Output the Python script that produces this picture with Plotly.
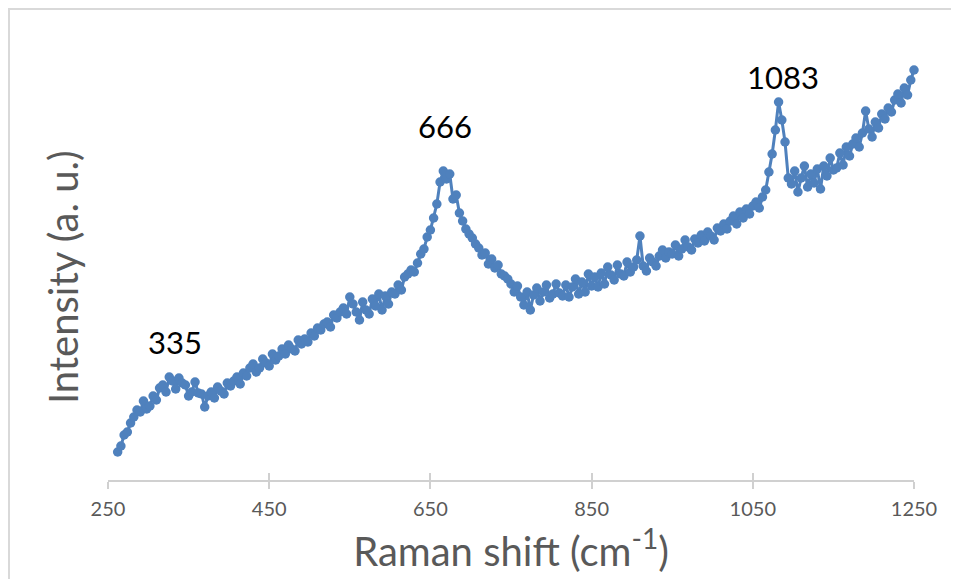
import plotly.graph_objects as go

# Raman spectrum (intensity in arbitrary units)
raman_shift = [
    262, 266, 270, 274, 278, 282, 286, 290, 294, 298,
    302, 306, 310, 314, 318, 322, 326, 330, 334, 338,
    342, 346, 350, 354, 358, 362, 366, 370, 374, 378,
    382, 386, 390, 394, 398, 402, 406, 410, 414, 418,
    422, 426, 430, 434, 438, 442, 446, 450, 454, 458,
    462, 466, 470, 474, 478, 482, 486, 490, 494, 498,
    502, 506, 510, 514, 518, 522, 526, 530, 534, 538,
    542, 546, 550, 554, 558, 562, 566, 570, 574, 578,
    582, 586, 590, 594, 598, 602, 606, 610, 614, 618,
    622, 626, 630, 634, 638, 642, 646, 650, 654, 658,
    662, 666, 670, 674, 678, 682, 686, 690, 694, 698,
    702, 706, 710, 714, 718, 722, 726, 730, 734, 738,
    742, 746, 750, 754, 758, 762, 766, 770, 774, 778,
    782, 786, 790, 794, 798, 802, 806, 810, 814, 818,
    822, 826, 830, 834, 838, 842, 846, 850, 854, 858,
    862, 866, 870, 874, 878, 882, 886, 890, 894, 898,
    902, 906, 910, 914, 918, 922, 926, 930, 934, 938,
    942, 946, 950, 954, 958, 962, 966, 970, 974, 978,
    982, 986, 990, 994, 998, 1002, 1006, 1010, 1014, 1018,
    1022, 1026, 1030, 1034, 1038, 1042, 1046, 1050, 1054, 1058,
    1062, 1066, 1070, 1074, 1078, 1082, 1086, 1090, 1094, 1098,
    1102, 1106, 1110, 1114, 1118, 1122, 1126, 1130, 1134, 1138,
    1142, 1146, 1150, 1154, 1158, 1162, 1166, 1170, 1174, 1178,
    1182, 1186, 1190, 1194, 1198, 1202, 1206, 1210, 1214, 1218,
    1222, 1226, 1230, 1234, 1238, 1242, 1246, 1250,
]
intensity = [
    28, 34, 45, 48, 57, 63, 70, 68, 79, 71,
    74, 84, 80, 92, 95, 88, 103, 99, 91, 102,
    97, 95, 84, 88, 98, 87, 86, 73, 84, 88,
    82, 93, 89, 86, 97, 94, 99, 103, 96, 107,
    104, 112, 116, 108, 112, 121, 117, 114, 126, 120,
    124, 131, 126, 135, 131, 129, 140, 136, 141, 138,
    147, 144, 152, 150, 156, 158, 153, 165, 162, 168,
    172, 166, 183, 176, 168, 160, 178, 170, 166, 181,
    174, 186, 170, 184, 176, 188, 186, 195, 190, 203,
    206, 210, 208, 217, 226, 231, 243, 250, 262, 276,
    298, 309, 301, 306, 281, 285, 267, 259, 251, 246,
    242, 236, 232, 225, 227, 216, 221, 212, 215, 206,
    204, 201, 196, 188, 194, 183, 175, 188, 170, 185,
    192, 179, 188, 195, 182, 186, 196, 187, 184, 195,
    183, 193, 201, 186, 198, 188, 206, 194, 203, 193,
    207, 196, 213, 205, 200, 215, 206, 204, 218, 208,
    213, 220, 244, 214, 209, 222, 218, 214, 224, 230,
    222, 228, 226, 235, 224, 231, 240, 233, 230, 241,
    237, 245, 239, 248, 244, 240, 252, 249, 256, 251,
    259, 264, 256, 268, 262, 271, 266, 274, 278, 272,
    283, 290, 308, 326, 350, 378, 360, 338, 302, 296,
    309, 288, 302, 314, 293, 306, 297, 311, 291, 314,
    304, 322, 310, 312, 327, 315, 333, 324, 336, 342,
    333, 347, 369, 351, 343, 358, 352, 366, 361, 372,
    368, 380, 386, 377, 392, 385, 400, 410,
]

peak_labels = ['335', '666', '1083']
peak_x = [333, 668, 1087]
peak_y = [138, 354, 403]

tick_vals = [250, 450, 650, 850, 1050, 1250]

blue = '#4F81BD'
grey_txt = '#595959'
axis_grey = '#D0D0D0'
font_family = 'Lato, Open Sans, sans-serif'

fig = go.Figure()
fig.add_trace(go.Scatter(
    x=raman_shift, y=intensity,
    mode='lines+markers',
    line=dict(color=blue, width=3),
    marker=dict(color=blue, size=9.5),
    cliponaxis=False,
    showlegend=False,
))
# invisible trace so the overlay axis (inner tick halves) gets drawn
fig.add_trace(go.Scatter(x=[250], y=[-100], xaxis='x2', mode='markers',
                         marker=dict(opacity=0), showlegend=False, hoverinfo='skip'))

# peak labels
for lab, px, py in zip(peak_labels, peak_x, peak_y):
    fig.add_annotation(x=px, y=py, text=lab, showarrow=False,
                       font=dict(family=font_family, size=31, color='black'))

# y axis title (Excel centres it a bit lower than the plot area)
fig.add_annotation(xref='paper', yref='paper', x=-0.0558, y=0.451,
                   xanchor='center', yanchor='middle',
                   text='Intensity (a. u.)', textangle=-90, showarrow=False,
                   font=dict(family=font_family, size=40, color=grey_txt))

# chart border (only top and left edges are visible in the frame)
fig.add_shape(type='rect', xref='paper', yref='paper',
              x0=-0.1228, x1=1.3, y0=-0.4, y1=1.0467,
              line=dict(color='#D9D9D9', width=2), layer='below')

fig.update_layout(
    width=951, height=571,
    margin=dict(l=100, r=45, t=22, b=99),
    paper_bgcolor='white', plot_bgcolor='white',
    font=dict(family=font_family, color=grey_txt),
    xaxis=dict(
        range=[250, 1250], tickvals=tick_vals,
        showgrid=False, zeroline=False,
        showline=True, linecolor=axis_grey, linewidth=2,
        ticks='outside', ticklen=7, tickwidth=1.5, tickcolor=axis_grey,
        ticklabelstandoff=3,
        tickfont=dict(family=font_family, size=20, color=grey_txt),
        title=dict(text='Raman shift (cm<sup>-1</sup>)', standoff=19,
                   font=dict(family=font_family, size=40, color=grey_txt)),
    ),
    xaxis2=dict(
        range=[250, 1250], tickvals=tick_vals, overlaying='x',
        showgrid=False, zeroline=False, showticklabels=False,
        ticks='inside', ticklen=7, tickwidth=1.5, tickcolor=axis_grey,
        side='bottom', anchor='y',
    ),
    yaxis=dict(range=[0, 450], visible=False),
)

fig.write_html('out.html')
